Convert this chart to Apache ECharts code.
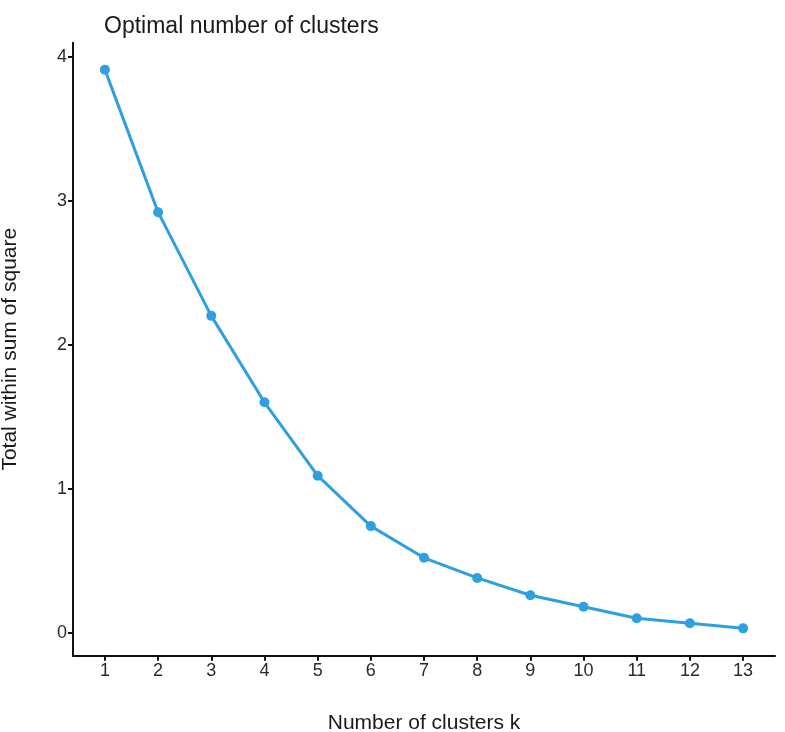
<!DOCTYPE html>
<html>
<head>
<meta charset="utf-8">
<script src="https://cdn.jsdelivr.net/npm/echarts@6/dist/echarts.min.js"></script>
<style>html,body{margin:0;padding:0;background:#fff;}#c{width:785px;height:732px;}</style>
</head>
<body>
<div id="c"></div>
<script>
const clustersK = [1, 2, 3, 4, 5, 6, 7, 8, 9, 10, 11, 12, 13];
const withinSS = [3.91, 2.92, 2.20, 1.60, 1.09, 0.74, 0.52, 0.38, 0.26, 0.18, 0.10, 0.065, 0.03];
const yTicks = [0, 1, 2, 3, 4];
const xTicks = clustersK;

const chart = echarts.init(document.getElementById('c'), null, {renderer: 'canvas'});
const font = '"Liberation Sans", Arial, Helvetica, sans-serif';
chart.setOption({
  animation: false,
  backgroundColor: '#ffffff',
  title: {
    text: 'Optimal number of clusters',
    left: 104, top: 15, padding: 0,
    textStyle: {fontFamily: font, fontSize: 23, fontWeight: 'normal', color: '#1a1a1a'}
  },
  grid: {left: 73, right: 10, top: 42.7, bottom: 76.3, containLabel: false, outerBoundsMode: 'none'},
  xAxis: {
    type: 'value', min: 0.4, max: 13.6,
    name: 'Number of clusters k', nameLocation: 'middle', nameGap: 57,
    nameTextStyle: {fontFamily: font, fontSize: 21, color: '#1a1a1a'},
    axisLine: {show: true, onZero: false, lineStyle: {color: '#111', width: 2}},
    axisTick: {show: true, customValues: xTicks, length: 5, lineStyle: {color: '#111', width: 2}},
    axisLabel: {customValues: xTicks, fontFamily: font, fontSize: 18, color: '#2a2a2a', margin: 6},
    splitLine: {show: false}
  },
  yAxis: {
    type: 'value', min: -0.16, max: 4.097,
    name: 'Total within sum of square', nameLocation: 'middle', nameGap: 52,
    nameTextStyle: {fontFamily: font, fontSize: 21, color: '#1a1a1a'},
    axisLine: {show: true, onZero: false, lineStyle: {color: '#111', width: 2}},
    axisTick: {show: true, customValues: yTicks, length: 5, lineStyle: {color: '#111', width: 2}},
    axisLabel: {customValues: yTicks, fontFamily: font, fontSize: 18, color: '#2a2a2a', margin: 6},
    splitLine: {show: false}
  },
  series: [{
    type: 'line',
    data: clustersK.map((k, i) => [k, withinSS[i]]),
    symbol: 'circle', symbolSize: 10,
    lineStyle: {color: '#2E9FDF', width: 3},
    itemStyle: {color: '#2E9FDF'}
  }]
});
</script>
</body>
</html>
